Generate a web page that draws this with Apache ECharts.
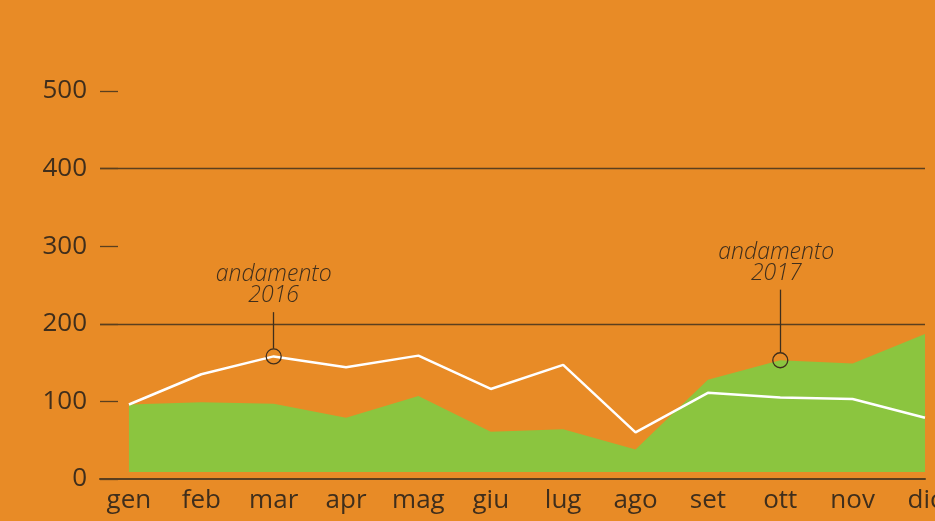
<!DOCTYPE html>
<html>
<head>
<meta charset="utf-8">
<title>andamento 2016 - 2017</title>
<script src="https://cdn.jsdelivr.net/npm/echarts@6/dist/echarts.min.js"></script>
<style>
  html, body { margin: 0; padding: 0; background: #e88b26; }
  #chart { width: 935px; height: 521px; }
</style>
</head>
<body>
<div id="chart"></div>
<script>
// mesi
const months = ['gen', 'feb', 'mar', 'apr', 'mag', 'giu', 'lug', 'ago', 'set', 'ott', 'nov', 'dic']
// andamento 2016 (linea bianca)
const values2016 = [96, 135, 158, 144, 159, 116, 147, 60, 111, 105, 103, 79]
// andamento 2017 (area verde)
const values2017 = [96, 99, 97, 79, 107, 61, 64, 38, 128, 153, 149, 187]
const areaBase = 9
const yTicks = [0, 100, 200, 300, 400, 500]

// annotazioni: indice del mese, dove finisce la linea verticale
const note2016 = { idx: 2, top: 215, text: 'andamento\n2016', dx: 0 }
const note2017 = { idx: 9, top: 244, text: 'andamento\n2017', dx: -4 }

const dark = '#3f2e1c'
const lineDark = '#5a3f1f'

const chart = echarts.init(document.getElementById('chart'))

function annotation(note, values, gap) {
  const v = values[note.idx]
  return {
    markPoint: {
      silent: true,
      symbol: 'circle',
      symbolSize: 15,
      itemStyle: { color: 'rgba(0,0,0,0)', borderColor: dark, borderWidth: 1.3 },
      label: { show: false },
      data: [{ coord: [note.idx, v] }]
    },
    markLine: {
      silent: true,
      symbol: 'none',
      lineStyle: { color: dark, width: 1.3, type: 'solid' },
      label: {
        show: true,
        position: 'end',
        distance: 6,
        offset: [note.dx, 0],
        formatter: note.text,
        color: dark,
        fontFamily: 'Open Sans',
        fontStyle: 'italic',
        fontWeight: 300,
        fontSize: 23,
        lineHeight: 21
      },
      data: [[{ coord: [note.idx, v + gap] }, { coord: [note.idx, note.top] }]]
    }
  }
}

chart.setOption({
  animation: false,
  backgroundColor: '#e88b26',
  grid: { left: 100, right: 10, top: 91, bottom: 42, containLabel: false, outerBoundsMode: 'none' },
  xAxis: {
    type: 'value',
    min: -0.4,
    max: 11,
    axisLine: { show: true, lineStyle: { color: lineDark, width: 2 } },
    axisTick: { show: false },
    splitLine: { show: false },
    axisLabel: {
      customValues: months.map((m, i) => i),
      formatter: v => months[v],
      color: dark,
      fontFamily: 'Open Sans',
      fontSize: 26,
      margin: 9
    }
  },
  yAxis: {
    type: 'value',
    min: yTicks[0],
    max: yTicks[yTicks.length - 1],
    interval: 100,
    axisLine: { show: false, onZero: false },
    axisTick: { show: true, inside: true, length: 18, lineStyle: { color: lineDark, width: 1.3 } },
    splitLine: {
      show: true,
      lineStyle: {
        width: 1.3,
        color: ['rgba(0,0,0,0)', 'rgba(0,0,0,0)', lineDark, 'rgba(0,0,0,0)', lineDark, 'rgba(0,0,0,0)']
      }
    },
    axisLabel: {
      color: dark,
      fontFamily: 'Open Sans',
      fontSize: 26,
      margin: 13,
      padding: [5, 0, 0, 0]
    }
  },
  series: [
    Object.assign({
      name: '2017',
      type: 'line',
      data: values2017.map((v, i) => [i, v]),
      showSymbol: false,
      lineStyle: { width: 0 },
      areaStyle: { color: '#8bc53f', opacity: 1, origin: areaBase },
      z: 2
    }, annotation(note2017, values2017, 10)),
    Object.assign({
      name: '2016',
      type: 'line',
      data: values2016.map((v, i) => [i, v]),
      showSymbol: false,
      lineStyle: { color: '#ffffff', width: 2.5 },
      z: 3
    }, annotation(note2016, values2016, 10))
  ]
})
</script>
</body>
</html>
